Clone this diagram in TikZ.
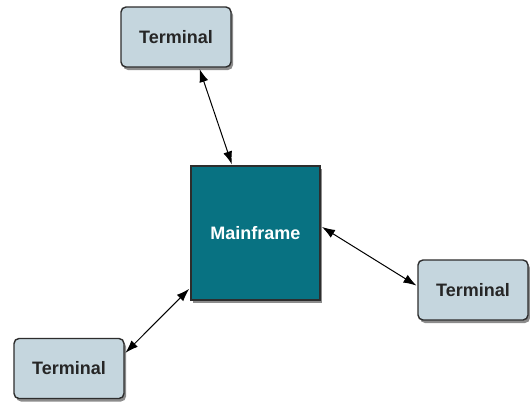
\documentclass[tikz,border=0pt]{standalone}
\usepackage{fontspec}
\setmainfont{Liberation Sans}
\usetikzlibrary{shadows,arrows.meta}
\definecolor{termfill}{RGB}{197,214,222}
\definecolor{mainfill}{RGB}{8,114,130}
\definecolor{edge}{RGB}{45,45,45}
\begin{document}
\begin{tikzpicture}[x=1pt,y=-1pt,
  terminal/.style={draw=edge,line width=1.4pt,fill=termfill,rounded corners=5pt,
    minimum width=110pt,minimum height=60pt,inner sep=0pt,
    font=\bfseries\fontsize{18}{20}\selectfont,text=black!85,
    drop shadow={shadow xshift=2pt,shadow yshift=-3pt,opacity=0.45,fill=black}},
  mainframe/.style={draw=edge,line width=1.4pt,fill=mainfill,
    minimum width=129pt,minimum height=134pt,inner sep=0pt,
    font=\bfseries\fontsize{18}{20}\selectfont,text=white,
    drop shadow={shadow xshift=2pt,shadow yshift=-3pt,opacity=0.45,fill=black}},
  link/.style={line width=1pt,black,{Latex[length=13pt,width=9pt]}-{Latex[length=13pt,width=9pt]},shorten <=1.5pt,shorten >=1pt}]
\useasboundingbox (0,0) rectangle (530,405);
\fill[white] (0,0) rectangle (530,405);
\node[terminal] (t1) at (176,37) {Terminal};
\node[mainframe] (mf) at (255.5,233) {Mainframe};
\node[terminal] (t2) at (473,290) {Terminal};
\node[terminal] (t3) at (69,368.5) {Terminal};
\draw[link] (t1.-53.7) -- (mf.109.3);
\draw[link] (mf.6.1) -- (t2.176);
\draw[link] (mf.220) -- (t3.15.9);
\end{tikzpicture}
\end{document}
